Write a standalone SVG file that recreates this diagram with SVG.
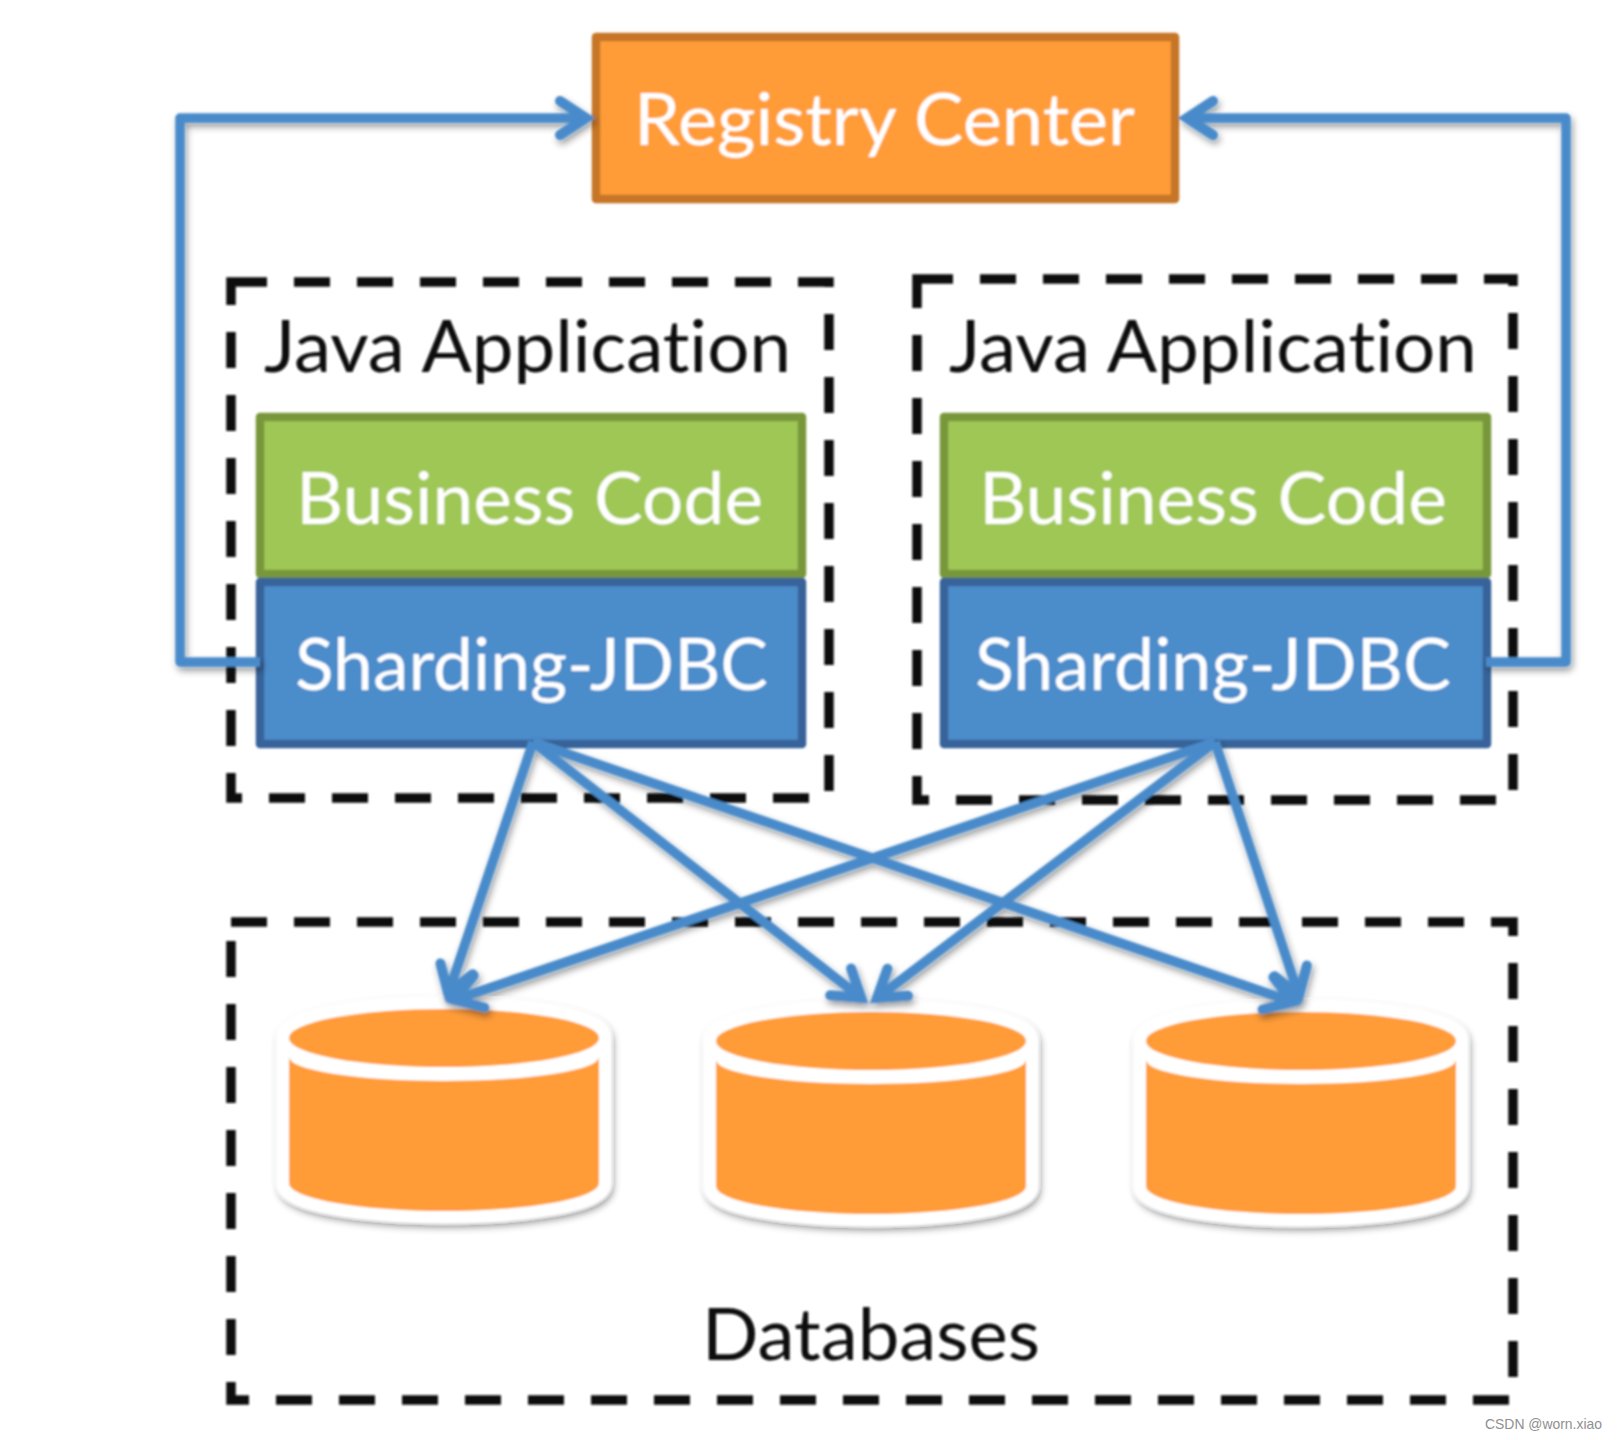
<svg xmlns="http://www.w3.org/2000/svg" width="1617" height="1440" viewBox="0 0 1617 1440">
<style>
.t{font-family:Lato,"Open Sans",sans-serif;font-size:71px;font-variant-ligatures:none}
.w{fill:#fff}
.k{fill:#0a0a0a}
.dash{fill:none;stroke:#0a0a0a;stroke-width:9.500;stroke-dasharray:36 27}
.box{stroke-width:8.500;stroke-linejoin:round}
.conn{fill:none;stroke:#4a8bca;stroke-width:9.500;stroke-linejoin:round}
.o{fill:#ff9c38}
</style>
<defs>
<filter id="soft" filterUnits="userSpaceOnUse" x="0" y="0" width="1617" height="1440"><feGaussianBlur stdDeviation="0.9"/></filter>
<filter id="sh" filterUnits="userSpaceOnUse" x="0" y="0" width="1617" height="1440"><feDropShadow dx="2" dy="4" stdDeviation="3.500" flood-color="#000" flood-opacity="0.4"/></filter>
<marker id="arr" markerUnits="userSpaceOnUse" markerWidth="60" markerHeight="60" viewBox="-40 -30 60 60" refX="0" refY="0" orient="auto"><path d="M-28,-17 L-2,0 L-28,17" fill="none" stroke="#4a8bca" stroke-width="10" stroke-linecap="round" stroke-linejoin="miter"/></marker>
<g id="cyl">
<path d="M289,1038 A155,29 0 0 1 599,1038 V1183 A155,28 0 0 1 289,1183 Z" fill="#fff" stroke="#fff" stroke-width="25" stroke-linejoin="round" filter="url(#sh)"/>
<ellipse cx="444" cy="1038" rx="155" ry="29" class="o"/>
<path d="M289,1057 A155,24 0 0 0 599,1057 V1183 A155,28 0 0 1 289,1183 Z" class="o"/>
</g>
</defs>
<rect width="1617" height="1440" fill="#fff"/>
<g filter="url(#soft)">
<g id="java-app-1"><rect class="dash" x="231" y="282" width="598" height="516"/><text class="t k" x="264" y="372" textLength="527" lengthAdjust="spacingAndGlyphs">Java Application</text></g>
<g id="java-app-2"><rect class="dash" x="917" y="279" width="596" height="521"/><text class="t k" x="949" y="372" textLength="528" lengthAdjust="spacingAndGlyphs">Java Application</text></g>
<g id="databases"><rect class="dash" x="231" y="922" width="1282" height="478"/><text class="t k" x="702" y="1360" textLength="338" lengthAdjust="spacingAndGlyphs">Databases</text></g>
<g id="registry-center"><rect class="box" x="596" y="37" width="579" height="162" fill="#ff9c38" stroke="#c67628"/><text class="t w" x="634" y="145" textLength="501" lengthAdjust="spacingAndGlyphs">Registry Center</text></g>
<g id="business-code-1"><rect class="box" x="260" y="417" width="542" height="157" fill="#9fc755" stroke="#78973b"/><text class="t w" x="296" y="524" textLength="467" lengthAdjust="spacingAndGlyphs">Business Code</text></g>
<g id="business-code-2"><rect class="box" x="944" y="417" width="543" height="157" fill="#9fc755" stroke="#78973b"/><text class="t w" x="979" y="524" textLength="468" lengthAdjust="spacingAndGlyphs">Business Code</text></g>
<g id="sharding-jdbc-1"><rect class="box" x="260" y="582" width="542" height="162" fill="#4c8ccb" stroke="#38649a"/><text class="t w" x="295" y="690" textLength="473" lengthAdjust="spacingAndGlyphs">Sharding-JDBC</text></g>
<g id="sharding-jdbc-2"><rect class="box" x="944" y="582" width="543" height="162" fill="#4c8ccb" stroke="#38649a"/><text class="t w" x="975" y="690" textLength="476" lengthAdjust="spacingAndGlyphs">Sharding-JDBC</text></g>
<g id="db-1"><use href="#cyl"/></g>
<g id="db-2"><use href="#cyl" transform="translate(427,3)"/></g>
<g id="db-3"><use href="#cyl" transform="translate(857,3)"/></g>
<g id="connectors" filter="url(#sh)">
<path class="conn" d="M260,662 H180 V118 H588" marker-end="url(#arr)"/>
<path class="conn" d="M1486,662 H1566 V118 H1185" marker-end="url(#arr)"/>
<path class="conn" d="M533,742 L447.600,995.400" marker-end="url(#arr)"/>
<path class="conn" d="M533,742 L862.700,999.100" marker-end="url(#arr)"/>
<path class="conn" d="M533,742 L1294.400,1002.400" marker-end="url(#arr)"/>
<path class="conn" d="M1215,742 L452.600,1000.400" marker-end="url(#arr)"/>
<path class="conn" d="M1215,742 L875.400,999.200" marker-end="url(#arr)"/>
<path class="conn" d="M1215,742 L1299.500,997.400" marker-end="url(#arr)"/>
</g>
</g>
<text x="1485" y="1429" font-family="'Liberation Sans',Arial,sans-serif" font-size="15" fill="#8f8f8f" textLength="117" lengthAdjust="spacingAndGlyphs">CSDN @worn.xiao</text>
</svg>
